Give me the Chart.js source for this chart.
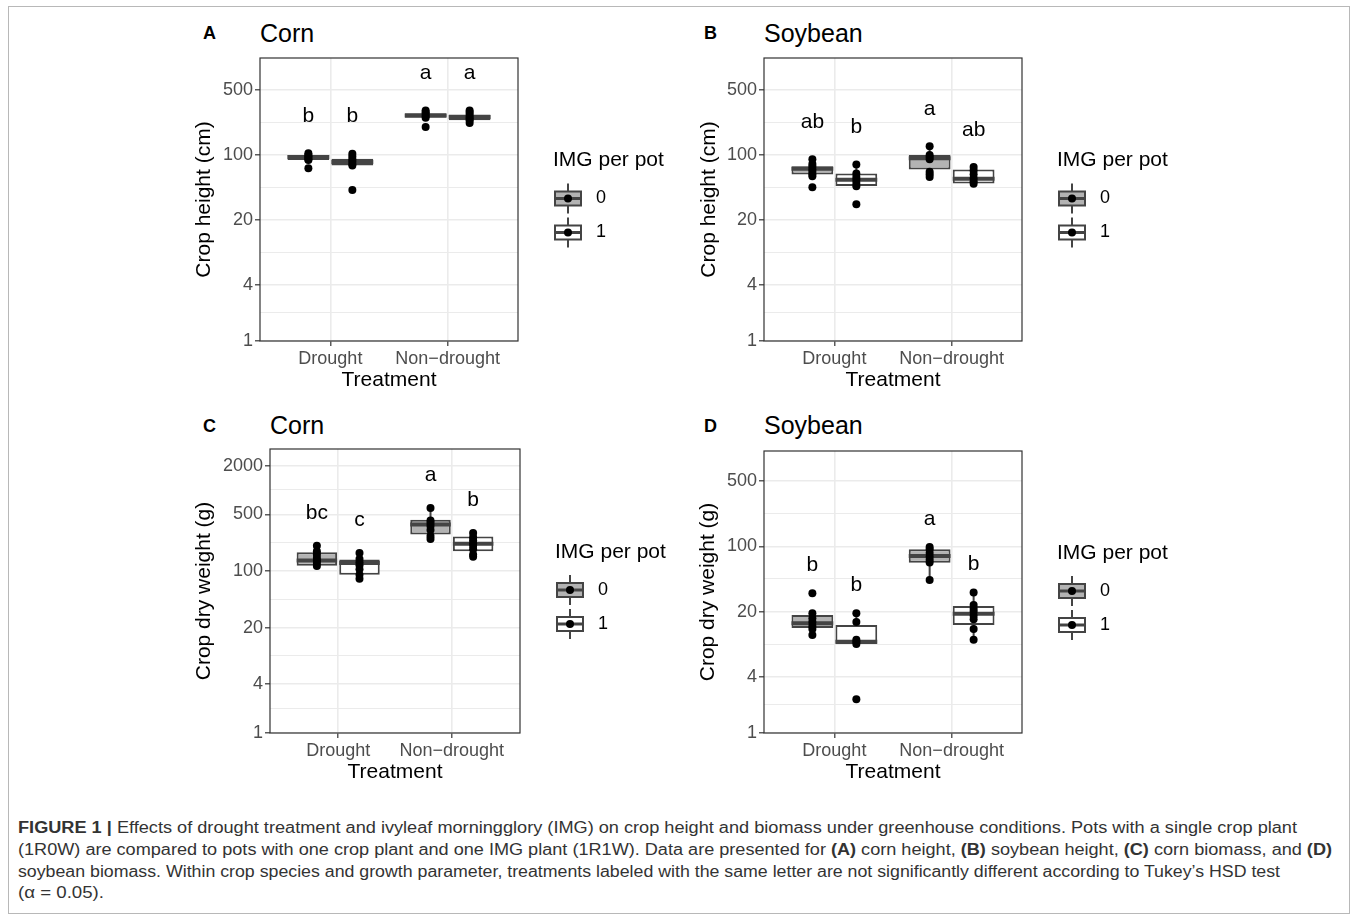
<!DOCTYPE html>
<html>
<head>
<meta charset="utf-8">
<script src="https://cdn.jsdelivr.net/npm/chart.js@4.4.0/dist/chart.umd.min.js"></script>
<style>
  body { margin: 0; background: #fff; font-family: 'Liberation Sans', Arial, sans-serif; }
  #fig { position: relative; width: 1358px; height: 922px; overflow: hidden; }
  #frame { position: absolute; left: 8px; top: 6px; width: 1342px; height: 908px; border: 1px solid #b8b8b8; box-sizing: border-box; }
  canvas { position: absolute; }
  .tag { position: absolute; font-weight: bold; font-size: 18px; line-height: 20px; color: #000; }
  .ttl { position: absolute; font-size: 25px; line-height: 28px; color: #000; }
  .cap { position: absolute; left: 18px; font-size: 16px; line-height: 20px; color: #333; white-space: nowrap; transform-origin: 0 50%; }
</style>
</head>
<body>
<div id="fig">
  <div id="frame"></div>

  <div class="tag" style="left:203px;top:23px">A</div>
  <div class="ttl" style="left:260px;top:19px">Corn</div>
  <div class="tag" style="left:704px;top:23px">B</div>
  <div class="ttl" style="left:764px;top:19px">Soybean</div>
  <div class="tag" style="left:203px;top:416px">C</div>
  <div class="ttl" style="left:270px;top:411px">Corn</div>
  <div class="tag" style="left:704px;top:416px">D</div>
  <div class="ttl" style="left:764px;top:411px">Soybean</div>

  <canvas id="chartA"></canvas>
  <canvas id="chartB"></canvas>
  <canvas id="chartC"></canvas>
  <canvas id="chartD"></canvas>

  <div class="cap" data-w="1279" style="top:818px"><b>FIGURE 1 |</b> Effects of drought treatment and ivyleaf morningglory (IMG) on crop height and biomass under greenhouse conditions. Pots with a single crop plant</div>
  <div class="cap" data-w="1314" style="top:840px">(1R0W) are compared to pots with one crop plant and one IMG plant (1R1W). Data are presented for <b>(A)</b> corn height, <b>(B)</b> soybean height, <b>(C)</b> corn biomass, and <b>(D)</b></div>
  <div class="cap" data-w="1262" style="top:862px">soybean biomass. Within crop species and growth parameter, treatments labeled with the same letter are not significantly different according to Tukey’s HSD test</div>
  <div class="cap" data-w="86" style="top:883px">(α = 0.05).</div>
</div>

<script>
// categories and legend levels
const categories = ['Drought', 'Non\u2212drought'];
const imgLevels = ['0', '1'];
// group order: Drought/0, Drought/1, Non-drought/0, Non-drought/1
const groupCat = [1, 1, 2, 2];
const groupImg = [0, 1, 0, 1];

// A - corn height (cm)
const cornHeightQ1 = [88, 77, 250, 235];
const cornHeightMed = [95, 84, 265, 255];
const cornHeightQ3 = [100, 91, 280, 272];
const cornHeightLo = [88, 77, 236, 232];
const cornHeightHi = [104, 103, 300, 300];
const cornHeightPts = [
  [104, 100, 97, 93, 90, 88, 72],
  [103, 96, 90, 85, 80, 77, 42],
  [300, 288, 275, 262, 250, 200],
  [300, 285, 270, 255, 245, 235, 220]
];
const cornHeightLetters = ['b', 'b', 'a', 'a'];

// B - soybean height (cm)
const soyHeightQ1 = [61.5, 46.4, 69.7, 49.3];
const soyHeightMed = [71, 54, 92, 55.5];
const soyHeightQ3 = [75.6, 63.1, 100, 69.7];
const soyHeightLo = [59, 46.4, 58, 49];
const soyHeightHi = [90, 79, 124, 74];
const soyHeightPts = [
  [90, 80, 75, 70, 66, 62, 59, 45],
  [79, 63, 58, 54, 50, 46, 29.5],
  [124, 100, 95, 90, 66, 62, 58],
  [74, 68, 62, 56, 52, 49]
];
const soyHeightLetters = ['ab', 'b', 'a', 'ab'];

// C - corn dry weight (g)
const cornWeightQ1 = [116, 90, 281, 175];
const cornWeightMed = [135, 125, 375, 217];
const cornWeightQ3 = [170, 138, 430, 267];
const cornWeightLo = [115, 80, 248, 150];
const cornWeightHi = [205, 167, 600, 295];
const cornWeightPts = [
  [205, 175, 160, 145, 135, 125, 115],
  [167, 140, 128, 118, 105, 90, 80],
  [600, 420, 390, 360, 320, 270, 248],
  [295, 260, 240, 220, 205, 185, 160, 150]
];
const cornWeightLetters = ['bc', 'c', 'a', 'b'];

// D - soybean dry weight (g)
const soyWeightQ1 = [13.3, 9.0, 66.8, 14.4];
const soyWeightMed = [15, 9.5, 78.7, 18.9];
const soyWeightQ3 = [18.4, 14.4, 92.9, 23];
const soyWeightLo = [11.2, 9.0, 43.6, 10];
const soyWeightHi = [19.2, 19.2, 98.5, 32];
const soyWeightPts = [
  [31.4, 19.2, 17, 15.5, 14, 13, 11.2],
  [19.2, 15.5, 10, 9.5, 9, 2.3],
  [98.5, 93, 85, 78, 72, 67, 43.6],
  [32, 23.5, 21.5, 20, 18, 16.5, 13, 10]
];
const soyWeightLetters = ['b', 'b', 'a', 'b'];

// y axis breaks
const breaksSmall = [1, 4, 20, 100, 500];
const breaksLarge = [1, 4, 20, 100, 500, 2000];

const FONT = "'Liberation Sans', Arial, sans-serif";
Chart.defaults.font.family = FONT;

const DODGE = 0.75, BAR_PCT = 0.95;
const shift = DODGE / 4;
const halfW = DODGE / 4 * BAR_PCT;
const PAD_TOP = 14, PAD_RIGHT = 180, AXIS_H = 56;
const BOX_LINE = '#444';
const FILLS = ['#b3b3b3', '#ffffff'];

function xOf(g) { return groupCat[g] + (groupImg[g] === 0 ? -shift : shift); }

const panels = [
  { id: 'chartA', yTitle: 'Crop height (cm)', yMax: 1100, breaks: breaksSmall, lift: 2.5,
    q1: cornHeightQ1, med: cornHeightMed, q3: cornHeightQ3, lo: cornHeightLo, hi: cornHeightHi,
    pts: cornHeightPts, letters: cornHeightLetters,
    box: { left: 260, top: 58, right: 518, bottom: 341 }, axisW: 72 },
  { id: 'chartB', yTitle: 'Crop height (cm)', yMax: 1100, breaks: breaksSmall, lift: 2.5,
    q1: soyHeightQ1, med: soyHeightMed, q3: soyHeightQ3, lo: soyHeightLo, hi: soyHeightHi,
    pts: soyHeightPts, letters: soyHeightLetters,
    box: { left: 764, top: 58, right: 1022, bottom: 341 }, axisW: 71 },
  { id: 'chartC', yTitle: 'Crop dry weight (g)', yMax: 3200, breaks: breaksLarge, lift: 2.55,
    q1: cornWeightQ1, med: cornWeightMed, q3: cornWeightQ3, lo: cornWeightLo, hi: cornWeightHi,
    pts: cornWeightPts, letters: cornWeightLetters,
    box: { left: 270, top: 449, right: 520, bottom: 733 }, axisW: 82 },
  { id: 'chartD', yTitle: 'Crop dry weight (g)', yMax: 1050, breaks: breaksSmall, lift: 2.0,
    q1: soyWeightQ1, med: soyWeightMed, q3: soyWeightQ3, lo: soyWeightLo, hi: soyWeightHi,
    pts: soyWeightPts, letters: soyWeightLetters,
    box: { left: 764, top: 451, right: 1022, bottom: 733 }, axisW: 72 }
];

function logTicks(breaks) {
  const out = [];
  breaks.forEach((b, i) => {
    out.push({ value: b, minor: false });
    if (i < breaks.length - 1) out.push({ value: Math.sqrt(b * breaks[i + 1]), minor: true });
  });
  return out;
}

// panel frame, significance letters and the legend
const decor = {
  id: 'decor',
  afterDatasetsDraw(chart) {
    const p = chart.options.plugins.decor.panel;
    const { ctx, chartArea: a, scales: { x, y } } = chart;
    ctx.save();
    ctx.fillStyle = '#000';
    ctx.font = '21px ' + FONT;
    ctx.textAlign = 'center';
    ctx.textBaseline = 'middle';
    p.letters.forEach((t, g) => {
      const top = Math.max(...p.pts[g]) * p.lift;
      ctx.fillText(t, x.getPixelForValue(xOf(g)), y.getPixelForValue(top));
    });
    ctx.strokeStyle = '#333';
    ctx.lineWidth = 1.2;
    ctx.strokeRect(a.left, a.top, a.right - a.left, a.bottom - a.top);
    ctx.restore();
  },
  afterDraw(chart) {
    const { ctx, chartArea: a } = chart;
    const x0 = a.right + 35, mid = (a.top + a.bottom) / 2;
    ctx.save();
    ctx.fillStyle = '#000';
    ctx.textBaseline = 'middle';
    ctx.textAlign = 'left';
    ctx.font = '21px ' + FONT;
    ctx.fillText('IMG per pot', x0, mid - 39);
    imgLevels.forEach((lvl, k) => {
      const cy = mid - 1 + 34 * k, cx = x0 + 15;
      ctx.strokeStyle = BOX_LINE;
      ctx.lineWidth = 2;
      ctx.beginPath(); ctx.moveTo(cx, cy - 15); ctx.lineTo(cx, cy + 15); ctx.stroke();
      ctx.fillStyle = FILLS[k];
      ctx.fillRect(cx - 13, cy - 7, 26, 14);
      ctx.strokeRect(cx - 13, cy - 7, 26, 14);
      ctx.lineWidth = 3;
      ctx.beginPath(); ctx.moveTo(cx - 13, cy); ctx.lineTo(cx + 13, cy); ctx.stroke();
      ctx.fillStyle = '#000';
      ctx.beginPath(); ctx.arc(cx, cy, 4, 0, Math.PI * 2); ctx.fill();
      ctx.font = '18px ' + FONT;
      ctx.fillText(lvl, x0 + 43, cy);
    });
    ctx.restore();
  }
};

panels.forEach(p => {
  const canvas = document.getElementById(p.id);
  const b = p.box;
  canvas.width = p.axisW + (b.right - b.left) + PAD_RIGHT;
  canvas.height = PAD_TOP + (b.bottom - b.top) + AXIS_H;
  canvas.style.left = (b.left - p.axisW) + 'px';
  canvas.style.top = (b.top - PAD_TOP) + 'px';

  const groups = [0, 1, 2, 3];
  const bars = imgLevels.map((lvl, k) => ({
    type: 'bar',
    label: lvl,
    data: groups.filter(g => groupImg[g] === k).map(g => ({ x: groupCat[g], y: [p.q1[g], p.q3[g]] })),
    backgroundColor: FILLS[k],
    borderColor: BOX_LINE,
    borderWidth: 2,
    borderSkipped: false,
    categoryPercentage: DODGE,
    barPercentage: BAR_PCT,
    order: 2
  }));
  const whiskers = {
    type: 'line',
    data: groups.flatMap(g => [
      { x: xOf(g), y: p.lo[g] }, { x: xOf(g), y: p.q1[g] }, { x: xOf(g), y: null },
      { x: xOf(g), y: p.q3[g] }, { x: xOf(g), y: p.hi[g] }, { x: xOf(g), y: null }
    ]),
    borderColor: BOX_LINE, borderWidth: 2, pointRadius: 0, order: 3
  };
  const medians = {
    type: 'line',
    data: groups.flatMap(g => [
      { x: xOf(g) - halfW, y: p.med[g] }, { x: xOf(g) + halfW, y: p.med[g] }, { x: xOf(g), y: null }
    ]),
    borderColor: BOX_LINE, borderWidth: 4, borderCapStyle: 'butt', pointRadius: 0, order: 1
  };
  const points = {
    type: 'scatter',
    data: groups.flatMap(g => p.pts[g].map(v => ({ x: xOf(g), y: v }))),
    backgroundColor: '#000', borderWidth: 0, pointRadius: 4, order: 0
  };

  new Chart(canvas, {
    type: 'bar',
    data: { datasets: [...bars, whiskers, medians, points] },
    options: {
      responsive: false,
      animation: false,
      events: [],
      layout: { padding: { top: PAD_TOP, right: PAD_RIGHT, left: 0, bottom: 0 } },
      plugins: { legend: { display: false }, tooltip: { enabled: false }, decor: { panel: p } },
      scales: {
        x: {
          type: 'linear', min: 0.4, max: 2.6, offset: false,
          afterBuildTicks: s => { s.ticks = categories.map((c, i) => ({ value: i + 1 })); },
          afterFit: s => { s.height = AXIS_H; },
          ticks: { autoSkip: false, maxRotation: 0, color: '#4d4d4d', font: { size: 18 }, padding: 2,
                   callback: v => categories[Math.round(v) - 1] },
          grid: { offset: false, color: '#ebebeb', lineWidth: 1.6, tickLength: 5, tickColor: '#333', tickWidth: 1.2 },
          border: { display: false },
          title: { display: true, text: 'Treatment', color: '#000', font: { size: 21 } }
        },
        y: {
          type: 'logarithmic', min: 1, max: p.yMax, beginAtZero: false,
          afterBuildTicks: s => { s.ticks = logTicks(p.breaks); },
          afterFit: s => { s.width = p.axisW; },
          ticks: { autoSkip: false, color: '#4d4d4d', font: { size: 18 }, padding: 2,
                   callback: (v, i, t) => (t[i].minor ? '' : String(v)) },
          grid: {
            color: '#ebebeb',
            lineWidth: c => (c.tick && c.tick.minor ? 1 : 1.6),
            tickLength: 5,
            tickColor: c => (c.tick && c.tick.minor ? 'rgba(0,0,0,0)' : '#333'),
            tickWidth: 1.2
          },
          border: { display: false },
          title: { display: true, text: p.yTitle, color: '#000', font: { size: 21 } }
        }
      }
    },
    plugins: [decor]
  });
});

// stretch each caption line to the width it has in the figure
document.querySelectorAll('.cap').forEach(el => {
  const w = el.getBoundingClientRect().width;
  el.style.transform = 'scaleX(' + (el.dataset.w / w) + ')';
});
</script>
</body>
</html>
